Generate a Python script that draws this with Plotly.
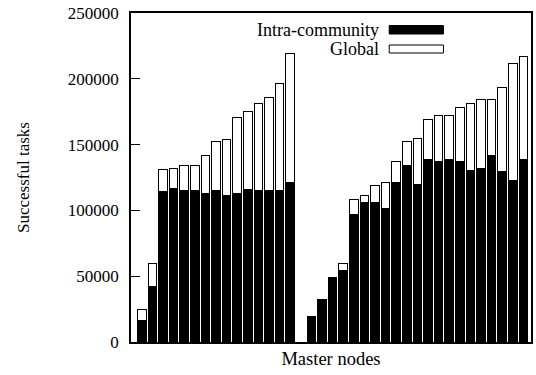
import plotly.graph_objects as go

# Successful tasks per master node, split by where the task was resolved
nodes = list(range(37))
intra_community = [16000, 42000, 114000, 116500, 115000, 115000, 112500, 115000, 111000,
                   113000, 116000, 115000, 115000, 115000, 121000, 0,
                   18500, 32000, 48000, 54000, 97000, 106000, 106000, 101500, 121000,
                   134000, 120000, 139000, 137000, 139000, 137000, 130500, 131500,
                   142000, 129500, 123000, 139000]
global_tasks = [8500, 18000, 17000, 15500, 19000, 19000, 29000, 37000, 42500,
                57500, 59500, 66000, 70500, 81500, 98000, 0,
                700, 400, 1000, 5500, 11000, 5000, 13000, 19500, 16500,
                18500, 35000, 30000, 35000, 33000, 41500, 51000, 53000,
                42500, 64000, 88500, 78000]
y_ticks = [0, 50000, 100000, 150000, 200000, 250000]

FONT = "Liberation Serif"
L, R, T, B = 131, 3, 13, 33
W, H = 536, 375
PW, PH = W - L - R, H - T - B


def px_x(px):
    return (px - L) / PW


def px_y(py):
    return 1 - (py - T) / PH


fig = go.Figure()
fig.add_trace(go.Bar(x=nodes, y=intra_community, name="Intra-community",
                     marker=dict(color="black", line=dict(color="black", width=1)),
                     showlegend=False))
fig.add_trace(go.Bar(x=nodes, y=global_tasks, name="Global",
                     marker=dict(color="white", line=dict(color="black", width=1)),
                     showlegend=False))

# Key: labels right-aligned, swatches to their right
key = [("Intra-community", "black", 25.5, 34.0),
       ("Global", "white", 45.0, 53.0)]
for label, fill, y0, y1 in key:
    fig.add_shape(type="rect", xref="paper", yref="paper",
                  x0=px_x(390.5), x1=px_x(445), y0=px_y(y1), y1=px_y(y0),
                  fillcolor=fill, line=dict(color="black", width=1))
    fig.add_annotation(xref="paper", yref="paper", x=px_x(382), y=px_y((y0 + y1) / 2),
                       text=label, showarrow=False, xanchor="right", yanchor="middle",
                       font=dict(family=FONT, size=18, color="black"))

fig.update_layout(
    width=W, height=H,
    margin=dict(l=L, r=R, t=T, b=B, pad=0),
    barmode="stack", bargap=0.18,
    plot_bgcolor="white", paper_bgcolor="white",
    font=dict(family=FONT, size=17, color="black"),
    xaxis=dict(range=[-1.02, 36.72], showticklabels=False, ticks="",
               showgrid=False, zeroline=False,
               showline=True, mirror=True, linecolor="black", linewidth=1.5,
               title=dict(text="Master nodes", standoff=9,
                          font=dict(family=FONT, size=18.5))),
    yaxis=dict(range=[0, 250000], tickvals=y_ticks,
               ticktext=[str(v) for v in y_ticks],
               ticks="inside", ticklen=9, tickwidth=1, tickcolor="black",
               ticklabelstandoff=7,
               showgrid=False, zeroline=False,
               showline=True, mirror=True, linecolor="black", linewidth=1.5,
               title=dict(text="Successful tasks", standoff=34,
                          font=dict(family=FONT, size=17))),
)

fig.write_html("out.html")
